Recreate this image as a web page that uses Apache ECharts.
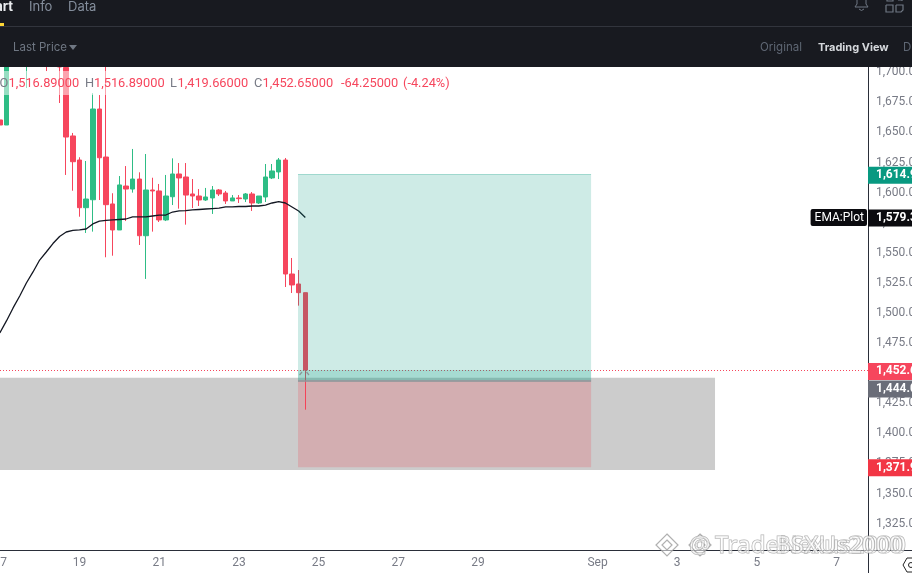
<!DOCTYPE html>
<html><head><meta charset="utf-8">
<style>html,body{margin:0;padding:0;background:#fff;overflow:hidden}#c{width:912px;height:573px}</style>
<script src="https://cdn.jsdelivr.net/npm/echarts@6/dist/echarts.min.js"></script>
</head><body><div id="c"></div>
<script>
// 4h candles, slot 12 = 19 Aug 00:00; null = candle off the top of the visible range
const opens  = [1660.4,1656.2,null,null,1708.6,null,null,1730,null,1712,1704,1647.1,1627.1,1587.5,1594.1,1669.5,1629.6,1590.6,1569,1605.5,1603,1611.3,1564.2,1602.2,1601.4,1577.3,1596.6,1615.5,1613,1598.9,1597.2,1593.9,1595.6,1602.2,1599.7,1593.1,1595.6,1594.7,1598.9,1591.4,1596.4,1612.2,1617.2,1627.1,1532.4,1524.1,1516.89];
const closes = [1656.2,1714,null,null,1725,null,null,1712,null,1704.4,1646.2,1625.7,1587.5,1594.7,1669.5,1629,1590,1569,1606.4,1603,1611.3,1564.2,1602.2,1601.4,1577.3,1597.2,1615.5,1612.2,1598,1597.2,1593.9,1596.4,1602.2,1598.9,1593.1,1595.6,1595,1598.9,1591.4,1597.2,1613,1618,1627.1,1532.4,1523.3,1516.89,1452.65];
const lows   = [1656.2,1656.2,null,null,1687,null,null,1701,null,1674.5,1614.7,1601.6,1580,1566.5,1567.6,1593.9,1546.3,1547.6,1569,1576.4,1600,1556.5,1528.3,1567.6,1575.6,1576.4,1589.7,1586.7,1573.4,1587.2,1588.9,1593.1,1582.3,1597.2,1590.6,1593.1,1591.4,1592.2,1584.8,1590.6,1592.2,1611.3,1611.3,1521.6,1516.6,1506.1,1419.66];
const highs  = [1660.4,1720,null,null,1730,null,null,1735,null,1720,1715,1649.6,1629.4,1626.3,1682.6,1681.1,1708,1599.5,1613.8,1622.1,1636.3,1616.9,1632.1,1612.4,1607.2,1614.7,1628.5,1624.6,1624.6,1611.3,1603,1603.9,1605.5,1603,1601.4,1598,1598,1599.7,1600.5,1597.2,1623.8,1623.8,1628.8,1628.8,1545.7,1535.7,1516.89];
const ema    = [1483.4,1493.4,1504.2,1514.1,1524.9,1534.1,1544,1550.7,1557.7,1563.6,1567.3,1568.6,1569,1569.8,1574,1576.4,1576.9,1577.3,1577.7,1578.1,1579.8,1579.8,1579.8,1580.6,1581.4,1581.4,1583.9,1584.8,1585,1585.6,1586,1586.4,1586.8,1587.2,1588.1,1588.1,1588.5,1588.5,1588.9,1588.9,1589.7,1591.4,1592.6,1591.4,1588.1,1584.8,1579.3];
const xTickDays   = [17.01,19,21,23,25,27,29,32,34,36,38];
const xTickLabels = ['17','19','21','23','25','27','29','Sep','3','5','7'];
const yTicks = [1325,1350,1375,1400,1425,1450,1475,1500,1525,1550,1575,1600,1625,1650,1675,1700];
const legendText = ['O','1,516.89000','H','1,516.89000','L','1,419.66000','C','1,452.65000','-64.25000','(-4.24%)'];
const priceTarget = 1614.9, priceEntry = 1444, priceStop = 1371.9, priceLast = 1452.65, priceEma = 1579.3;
const zoneTop = 1446.2, zoneBottom = 1369.6;
const boxStartDay = 24.483, boxEndDay = 31.838, zoneEndDay = 34.948;
const xMin = 17.005, xMax = 38.787, yMin = 1303.07, yMax = 1704.4;

const UP='#2ebd85', DOWN='#f6465d';
const dayOf = i => 19 + (i - 12) / 6;
const candles = [];
opens.forEach((o,i)=>{ if(o!==null) candles.push([dayOf(i),o,closes[i],lows[i],highs[i]]); });
const emaLine = ema.map((v,i)=>[dayOf(i),v]);
const fmt = v => v.toLocaleString('en-US',{minimumFractionDigits:5,maximumFractionDigits:5});
const tag = (val,bg,offset) => ({coord:[xMax,val],symbol:'circle',symbolSize:0,
  label:{show:true,position:'right',distance:0,formatter:fmt(val),color:'#fff',fontWeight:'bold',fontFamily:'Roboto',fontSize:12,
  backgroundColor:bg,padding:[2,10,1,8],lineHeight:14,offset:offset||[0,0.5]}});

const chart = echarts.init(document.getElementById('c'),null,{renderer:'canvas'});
const lx = [-0.5,8.5,85,94,170,177.5,254,262.5,341,403];
const rect=(x,y,w,h,fill,z)=>({type:'rect',shape:{x,y,width:w,height:h},style:{fill},z:z||100,silent:true});
const txt=(x,y,t,fill,font,align,z)=>({type:'text',x,y,style:{text:t,fill,font,textAlign:align||'left',textVerticalAlign:'middle'},z:z||101,silent:true});
const pl=(pts,stroke,lw,z)=>({type:'polyline',z:z||101,silent:true,shape:{points:pts},style:{stroke,fill:'none',lineWidth:lw||1}});
const F='Inter, "Noto Sans", sans-serif';
const wmFill='rgba(255,255,255,0.55)', wmStroke='rgba(150,150,150,0.75)';
const wmFont='500 24px "Noto Sans"';
const wmText=(x,t)=>({type:'text',z:121,silent:true,x,y:546,style:{text:t,font:wmFont,fill:wmFill,stroke:wmStroke,lineWidth:1,textVerticalAlign:'middle'}});
const diamond=(cx,r)=>({type:'polygon',z:120,silent:true,shape:{points:[[cx,545-r],[cx+r,545],[cx,545+r],[cx-r,545]]},style:{fill:wmFill,stroke:wmStroke,lineWidth:1.2}});
chart.setOption({
  animation:false,
  backgroundColor:'#fff',
  grid:{left:0,right:44,top:67,bottom:23,containLabel:false,outerBoundsMode:'none'},
  xAxis:{type:'value',min:xMin,max:xMax,scale:true,splitLine:{show:false},
    axisLine:{show:true,lineStyle:{color:'#2a2e39',width:1}},axisTick:{show:false},
    axisLabel:{show:true,customValues:xTickDays,color:'#787b86',fontFamily:'Roboto',fontSize:12,margin:7,showMinLabel:true,showMaxLabel:true,
      formatter:v=>{const k=xTickDays.indexOf(v);return k<0?'':xTickLabels[k];}}},
  yAxis:{type:'value',position:'right',min:yMin,max:yMax,scale:true,splitLine:{show:false},
    axisLine:{show:true,onZero:false,lineStyle:{color:'#2a2e39',width:1}},axisTick:{show:false},
    axisLabel:{show:true,customValues:yTicks,color:'#787b86',fontFamily:'Roboto',fontSize:12,margin:8,padding:[2,0,0,0],
      formatter:v=>fmt(v)}},
  series:[
   {type:'line',data:[],silent:true,z:1,
    markArea:{silent:true,z:1,data:[
      [{coord:[xMin,zoneTop],itemStyle:{color:'#cccccc',opacity:1}},{coord:[zoneEndDay,zoneBottom]}]
    ]}},
   {type:'candlestick',data:candles,encode:{x:0,y:[1,2,3,4]},barWidth:5,clip:true,z:2,
    itemStyle:{color:UP,color0:DOWN,borderColor:UP,borderColor0:DOWN,borderWidth:1}},
   {type:'line',data:emaLine,showSymbol:false,symbol:'none',z:3,clip:true,lineStyle:{color:'#131722',width:1.3},silent:true,
    markLine:{silent:true,symbol:'none',z:8,label:{show:false},lineStyle:{color:DOWN,type:[1,2],width:1},data:[{yAxis:priceLast}]}},
   {type:'line',data:[],silent:true,z:10,
    markArea:{silent:true,z:10,data:[
      [{coord:[boxStartDay,priceTarget],itemStyle:{color:'rgba(8,153,129,0.2)'}},{coord:[boxEndDay,priceEntry]}],
      [{coord:[boxStartDay,priceLast],itemStyle:{color:'rgba(8,153,129,0.2)'}},{coord:[boxEndDay,priceEntry]}],
      [{coord:[boxStartDay,priceEntry],itemStyle:{color:'rgba(242,54,69,0.2)'}},{coord:[boxEndDay,priceStop]}]
    ]},
    markLine:{silent:true,symbol:'none',z:11,label:{show:false},data:[
      [{coord:[boxStartDay,priceEntry],lineStyle:{color:'#8a9598',width:1.5,type:'solid'}},{coord:[boxEndDay,priceEntry]}],
      [{coord:[boxStartDay,priceTarget],lineStyle:{color:'#9fd8ce',width:1,type:'solid'}},{coord:[boxEndDay,priceTarget]}]
    ]}},
   {type:'line',data:[],silent:true,z:20,
    markPoint:{silent:true,z:20,data:[
      tag(priceTarget,'#089981'),
      tag(priceEma,'#0b0b0f'),
      tag(priceLast,DOWN,[0,1.5]),
      tag(priceEntry,'#6a6d78',[0,8.5]),
      tag(priceStop,'#f23645'),
      {coord:[xMax,priceEma],symbol:'circle',symbolSize:0,label:{show:true,position:'left',distance:1,formatter:'EMA:Plot',color:'#fff',fontFamily:'Roboto',fontSize:12,backgroundColor:'#0b0b0f',padding:[2,3,1,4],lineHeight:14,borderRadius:2}}
    ]}}
  ],
  graphic:{elements:[
    rect(0,71,455,24,'rgba(255,255,255,0.5)',50),
    ...legendText.map((t,i)=>txt(lx[i],83.5,t,(i%2===0&&i<8)?'#787b86':DOWN,'12.8px Roboto','left',51)),
    rect(0,0,912,67,'#181a20',100),
    rect(0,26,912,1,'#32353d',101),
    rect(0,23,4,3,'#fcd535',102),
    txt(13,7,'Chart','#eaecef','bold 13px '+F,'right'),
    txt(29,7,'Info','#848e9c','13px '+F),
    txt(68,7,'Data','#848e9c','13px '+F),
    txt(13,48,'Last Price','#6f7783','11.5px '+F),
    {type:'polygon',shape:{points:[[69,45],[77,45],[73,50]]},style:{fill:'#6f7783'},z:101,silent:true},
    txt(760,48,'Original','#5e6673','11.5px '+F),
    txt(818,48,'Trading View','#d5d8dc','bold 11px '+F),
    txt(903,48,'D','#5e6673','11.5px '+F),
    pl([[857,-2],[857,4],[855,7],[868,7],[866,4],[866,-2]],'#6f7783',1),
    pl([[859,9],[861.5,10.5],[864,9]],'#6f7783',1),
    pl([[887,0],[887,1],[893,1],[893,0]],'#6f7783',1.2),
    pl([[898,0],[902,0],[902,1]],'#6f7783',1.2),
    pl([[886,5],[893,5],[893,12],[886,12],[886,5]],'#6f7783',1.2),
    pl([[896,5],[903,5],[903,10],[901,12],[896,12],[896,5]],'#6f7783',1.2),
    // axis extensions
    {type:'line',z:90,silent:true,shape:{x1:868.5,y1:550,x2:868.5,y2:573},style:{stroke:'#2a2e39',lineWidth:1}},
    {type:'line',z:90,silent:true,shape:{x1:868,y1:550.5,x2:912,y2:550.5},style:{stroke:'#2a2e39',lineWidth:1}},
    {type:'polygon',z:90,silent:true,shape:{points:[[903,565],[907,558],[916,558],[920,565],[916,572],[907,572]]},style:{fill:'#fff',stroke:'#222',lineWidth:1}},
    {type:'circle',z:91,silent:true,shape:{cx:911,cy:565,r:2.5},style:{fill:'none',stroke:'#222',lineWidth:1}},
    // entry cursor chevrons
    pl([[299.5,375],[302,372]],'#8b9599',1.2,60),
    pl([[306.5,372],[309,375]],'#8b9599',1.2,60),
    // watermark
    diamond(667,11), diamond(667,5), diamond(700,11), diamond(700,5),
    wmText(689,'@'), wmText(715,'TradeNexus2000'), wmText(775,'BSXUs2000')
  ]}
});
</script></body></html>
